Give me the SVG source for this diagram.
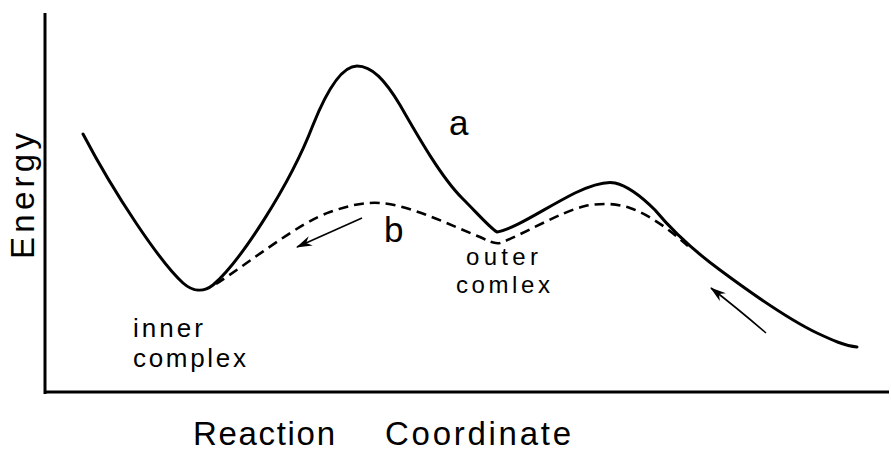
<svg xmlns="http://www.w3.org/2000/svg" width="891" height="452" viewBox="0 0 891 452">
<style>
.ax{stroke:#000;stroke-width:3;fill:none}
.cv{stroke:#000;stroke-width:3;fill:none;stroke-linejoin:round;stroke-linecap:round}
.ds{stroke:#000;stroke-width:2.6;fill:none;stroke-dasharray:10 6}
.ar{stroke:#000;stroke-width:1.6;fill:none}
text{font-family:"Liberation Sans",Arial,sans-serif;fill:#000}
.lab{font-size:26px}
.lab2{font-size:24px}
.big{font-size:35px}
.axl{font-size:33px}
</style>
<defs>
<marker id="ah" viewBox="0 0 16 10" refX="15" refY="5" markerWidth="16" markerHeight="10" markerUnits="userSpaceOnUse" orient="auto">
<path d="M0,0 L16,5 L0,10 L5,5 Z" fill="#000"/>
</marker>
</defs>
<rect width="891" height="452" fill="#fff"/>
<g id="axes">
<line class="ax" x1="45" y1="13" x2="45" y2="394"/>
<line class="ax" x1="44" y1="392" x2="889" y2="392"/>
</g>
<g id="curve-a">
<path class="cv" d="M83,134 C115,195 160,262 183,283 C192,291 203,293 213,285 C240,262 290,185 313,125 C325,95 340,66 357,66 C372,66 385,80 400,105 C420,140 442,178 462,198 C478,214 490,228 497,232 C515,229 545,208 575,193 C592,185 605,181 615,183 C628,186 640,195 655,210 C670,228 690,248 720,270 C755,296 790,320 817,333 C832,340 845,346 857,347"/>
</g>
<g id="curve-b">
<path class="ds" d="M216,284 C250,262 300,222 330,212 C350,205 365,202 380,203 C410,205 450,225 480,237 C488,241 494,244 500,243 C520,236 560,212 585,206 C600,203 615,203 630,208 C650,215 670,230 688,246"/>
</g>
<g id="connectors">
<line class="ar" x1="362" y1="218" x2="297" y2="247" marker-end="url(#ah)"/>
<path class="ar" d="M766,333 Q737,308 711,288" marker-end="url(#ah)"/>
</g>
<g id="labels">
<text class="big" x="449" y="135">a</text>
<text class="big" x="384" y="242">b</text>
<text class="lab" x="133" y="337" textLength="70" lengthAdjust="spacing">inner</text>
<text class="lab" x="133" y="367" textLength="113" lengthAdjust="spacing">complex</text>
<text class="lab2" x="466" y="265" textLength="72" lengthAdjust="spacing">outer</text>
<text class="lab2" x="456" y="293" textLength="94" lengthAdjust="spacing">comlex</text>
<text class="axl" x="193" y="445" textLength="142" lengthAdjust="spacing">Reaction</text>
<text class="axl" x="385" y="445" textLength="186" lengthAdjust="spacing">Coordinate</text>
<text class="axl" transform="translate(34,259) rotate(-90)" textLength="126" lengthAdjust="spacing">Energy</text>
</g>
</svg>
